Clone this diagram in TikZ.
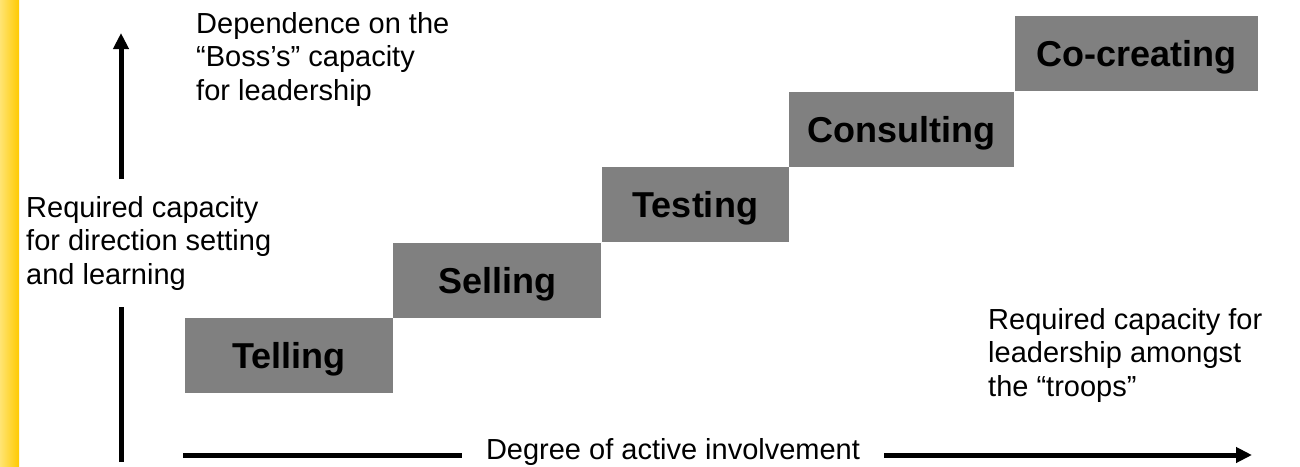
\documentclass[tikz,border=0pt]{standalone}
\usepackage{fontspec}
\setmainfont{Liberation Sans}
\usepackage{tikz}
\usetikzlibrary{positioning,arrows.meta}
\definecolor{box-gray}{gray}{0.5}
\definecolor{bar-pale}{RGB}{255,228,115}
\definecolor{bar-gold}{RGB}{255,202,0}
\newcommand*\notefont{\fontsize{29}{33.5}\selectfont}
\newcommand*\stepfont{\fontsize{36}{40}\selectfont\bfseries}

\begin{document}
\begin{tikzpicture}[x=1pt,y=-1pt,
				stepbox/.style={fill=box-gray,minimum height=75pt,inner sep=0pt,font=\stepfont,text height=26pt,text depth=0pt},
				note/.style={font=\notefont,align=left,inner sep=0pt},
				axis/.style={line width=5pt},
				tip/.style={-{Triangle[length=16pt,width=15pt]}}]
				\useasboundingbox (0,0) rectangle (1300,466);
				\shade[left color=bar-pale,right color=bar-gold] (0,0) rectangle (19,466);

				\node[stepbox,minimum width=208pt] (telling) at (289,355.5) {Telling};
				\node[stepbox,minimum width=208pt,above right=0pt and 0pt of telling] (selling) {Selling};
				\node[stepbox,minimum width=187pt,above right=0pt and 0pt of selling] (testing) {Testing};
				\node[stepbox,minimum width=225pt,above right=0pt and 0pt of testing] (consulting) {Consulting};
				\node[stepbox,minimum width=243pt,above right=0pt and 0pt of consulting] (cocreating) {Co-creating};

				\node[note,anchor=north west] (boss) at (196,12) {Dependence on the\\``Boss's'' capacity\\for leadership};
				\node[note,anchor=north west] (troops) at (988,308) {Required capacity for\\leadership amongst\\the ``troops''};
				\node[note,anchor=north west,inner ysep=17pt] (ylabel) at (26,179) {Required capacity\\for direction setting\\and learning};
				\node[note,anchor=base,inner xsep=24pt] (xlabel) at (673,459) {Degree of active involvement};

				\coordinate (yfoot) at (121,462);
				\coordinate (yhead) at (121,33);
				\coordinate (xfoot) at (183,455);
				\coordinate (xhead) at (1252,455);
				\draw[axis] (yfoot) -- (yfoot |- ylabel.south);
				\draw[axis,tip] (yhead |- ylabel.north) -- (yhead);
				\draw[axis] (xfoot) -- (xfoot -| xlabel.west);
				\draw[axis,tip] (xhead -| xlabel.east) -- (xhead);
				\end{tikzpicture}
\end{document}
